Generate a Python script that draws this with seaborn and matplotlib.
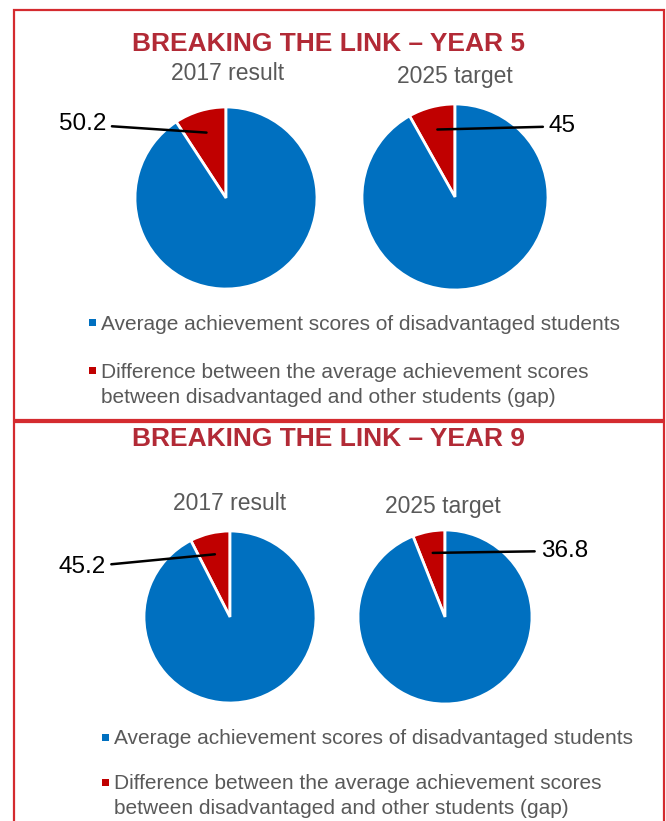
import matplotlib
matplotlib.use("Agg")
import matplotlib.pyplot as plt
from matplotlib.patches import Rectangle
import numpy as np
import seaborn as sns

sns.set_theme(style="white")
plt.rcParams['font.family'] = ['Liberation Sans', 'DejaVu Sans']

# data
years = ["YEAR 5", "YEAR 9"]
pie_titles = ["2017 result", "2025 target"]
gap_y5 = [50.2, 45]          # difference (gap)
avg_y5 = [494, 508]          # average achievement of disadvantaged students (est.)
gap_y9 = [45.2, 36.8]
avg_y9 = [555, 576]
legend_labels = ["Average achievement scores of disadvantaged students",
                 "Difference between the average achievement scores\nbetween disadvantaged and other students (gap)"]

blue = "#0070C0"
red = "#C00000"
title_red = "#B22A36"
grey = "#595959"
border_red = "#D42B2F"

W, H = 666, 821
fig = plt.figure(figsize=(W / 100, H / 100), dpi=100)

def fx(x):
    return x / W

def fy(y):
    return 1 - y / H

def pie_ax(cx, cy, r):
    return fig.add_axes([fx(cx - r), fy(cy + r), 2 * r / W, 2 * r / H])

# panel borders
fig.add_artist(Rectangle((fx(14), fy(420)), fx(650), 410 / H, transform=fig.transFigure,
                         fill=False, ec=border_red, lw=1.6))
fig.add_artist(Rectangle((fx(14), fy(830)), fx(650), 408 / H, transform=fig.transFigure,
                         fill=False, ec=border_red, lw=1.6))

panels = [
    dict(year=years[0], gaps=gap_y5, avgs=avg_y5, title_y=44,
         sub=[(228, 74), (455, 76)],
         pies=[(226, 198, 91), (455, 197, 93)],
         lab=[(-1.32, 0.81, 'right'), (1.01, 0.76, 'left')],
         leg=(92, 323, 371)),
    dict(year=years[1], gaps=gap_y9, avgs=avg_y9, title_y=439,
         sub=[(230, 503), (443, 506)],
         pies=[(230, 617, 86), (445, 617, 87)],
         lab=[(-1.45, 0.58, 'right'), (1.10, 0.76, 'left')],
         leg=(105, 737, 782)),
]

for p in panels:
    fig.text(fx(329), fy(p['title_y']), "BREAKING THE LINK \u2013 " + p['year'],
             ha='center', va='center', color=title_red, fontsize=19, fontweight='bold')
    for i in range(2):
        sx, sy = p['sub'][i]
        fig.text(fx(sx), fy(sy), pie_titles[i], ha='center', va='center',
                 color=grey, fontsize=16.5)
        cx, cy, r = p['pies'][i]
        ax = pie_ax(cx, cy, r)
        wedges, _ = ax.pie([p['gaps'][i], p['avgs'][i]], colors=[red, blue],
                           startangle=90, counterclock=True, radius=1,
                           wedgeprops=dict(edgecolor='white', linewidth=2))
        ax.set_xlim(-1, 1)
        ax.set_ylim(-1, 1)
        ax.set_aspect('auto')
        ax.axis('off')
        w = wedges[0]
        mid = np.deg2rad((w.theta1 + w.theta2) / 2)
        px, py = 0.75 * np.cos(mid), 0.75 * np.sin(mid)
        tx, ty, ha = p['lab'][i]
        ax.annotate(f"{p['gaps'][i]:g}", xy=(px, py), xytext=(tx, ty),
                    ha=ha, va='center', fontsize=17.5, color='black',
                    annotation_clip=False,
                    arrowprops=dict(arrowstyle='-', color='black', lw=1.8,
                                    shrinkA=2, shrinkB=0))
    lx, ly1, ly2 = p['leg']
    for col, yy, lab in [(blue, ly1, legend_labels[0]), (red, ly2, legend_labels[1])]:
        fig.add_artist(Rectangle((fx(lx - 3.5), fy(yy + 3.5)), 7 / W, 7 / H,
                                 transform=fig.transFigure, color=col, lw=0))
        fig.text(fx(lx + 9), fy(yy - 8), lab, ha='left', va='top', color=grey,
                 fontsize=15, linespacing=1.4)

fig.savefig("out.png", dpi=100)
